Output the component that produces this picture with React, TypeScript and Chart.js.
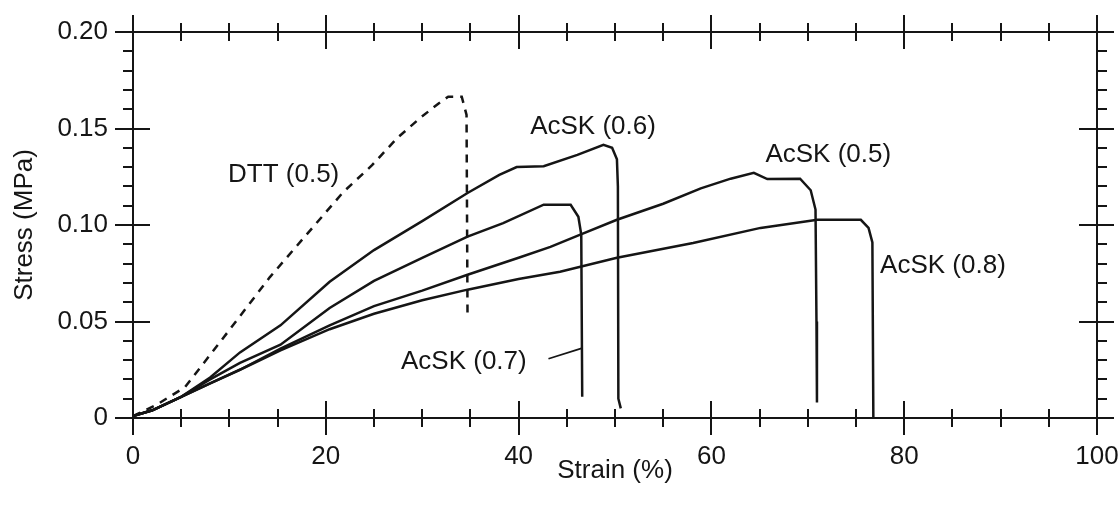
import React, { useEffect, useRef } from 'react';
import { Chart, registerables } from 'chart.js';

Chart.register(...registerables);

// ---- Data ----
const xTickValues = [0, 20, 40, 60, 80, 100];
const yTickValues = [0, 0.05, 0.1, 0.15, 0.2];

const dttX = [0, 2.5, 5.4, 9.75, 14.2, 18.0, 21.8, 24.8, 27.4, 29.8, 31.7, 32.7, 34.1, 34.6, 34.7];
const dttY = [0.001, 0.007, 0.016, 0.044, 0.073, 0.095, 0.117, 0.131, 0.145, 0.1555, 0.163, 0.1665, 0.1665, 0.157, 0.054];

const acsk06X = [0, 2, 5, 8, 11.1, 15.3, 20.4, 25, 30, 34.7, 38, 39.8, 42.6, 46.1, 48.8, 49.7, 50.2, 50.3, 50.35, 50.6];
const acsk06Y = [0.001, 0.004, 0.011, 0.021, 0.034, 0.048, 0.0706, 0.087, 0.102, 0.1166, 0.126, 0.13, 0.1305, 0.1363, 0.1415, 0.14, 0.134, 0.12, 0.01, 0.005];

const acsk07X = [0, 2, 5, 8, 11.1, 15.3, 20.4, 25, 30, 34.7, 38.4, 42.6, 45.4, 46.2, 46.5, 46.6];
const acsk07Y = [0.001, 0.004, 0.011, 0.02, 0.0286, 0.038, 0.057, 0.071, 0.083, 0.094, 0.101, 0.1105, 0.1105, 0.1043, 0.095, 0.011];

const acsk05X = [0, 2, 5, 8, 11.1, 15.3, 20.4, 25, 30, 34.7, 40, 43.3, 46.4, 50.2, 55, 58.9, 62, 64.4, 65.8, 69.2, 70.3, 70.8, 70.9, 70.95];
const acsk05Y = [0.001, 0.004, 0.011, 0.018, 0.025, 0.036, 0.048, 0.058, 0.066, 0.0742, 0.083, 0.0887, 0.095, 0.1027, 0.111, 0.119, 0.124, 0.127, 0.1238, 0.124, 0.118, 0.108, 0.05, 0.008];

const acsk08X = [0, 2, 5, 8, 11.1, 15.3, 20.4, 25, 30, 34.7, 40, 44.3, 50.2, 58.1, 65.1, 71, 75.5, 76.3, 76.7, 76.8];
const acsk08Y = [0.001, 0.004, 0.011, 0.018, 0.025, 0.035, 0.046, 0.054, 0.061, 0.0665, 0.072, 0.0758, 0.083, 0.0907, 0.0985, 0.1027, 0.1027, 0.0985, 0.091, 0];

const leaderX = [43.1, 46.6];
const leaderY = [0.0307, 0.0362];

const labelTexts = ['DTT (0.5)', 'AcSK (0.6)', 'AcSK (0.5)', 'AcSK (0.8)', 'AcSK (0.7)'];
const labelX = [9.86, 41.2, 65.6, 77.5, 27.8];
const labelY = [0.126, 0.1508, 0.1365, 0.0789, 0.0291];

const FONT = "'Liberation Sans', Arial, sans-serif";
const FS = 26;
const INK = '#151515';

const pts = (xs: number[], ys: number[]) => xs.map((x, i) => ({ x, y: ys[i] }));

const clearScalePadding = (s: any) => {
  s.paddingTop = 0;
  s.paddingBottom = 0;
  s.paddingLeft = 0;
  s.paddingRight = 0;
};

const framePlugin = {
  id: 'frameTicks',
  afterDatasetsDraw(chart: any) {
    const { ctx, chartArea, scales } = chart;
    const xs = scales.x;
    const ys = scales.y;
    const { left, right, top, bottom } = chartArea;
    ctx.save();
    ctx.strokeStyle = INK;
    ctx.lineWidth = 2;
    ctx.lineCap = 'butt';
    ctx.beginPath();
    ctx.rect(left, top, right - left, bottom - top);
    ctx.stroke();
    ctx.beginPath();
    // x ticks (every 5, major every 20)
    for (let v = 0; v <= 100 + 1e-9; v += 5) {
      const px = Math.round(xs.getPixelForValue(v));
      const major = Math.abs(v % 20) < 1e-9;
      const h = major ? 17 : 9;
      ctx.moveTo(px, bottom - h);
      ctx.lineTo(px, bottom + h);
      ctx.moveTo(px, top - h);
      ctx.lineTo(px, top + h);
    }
    // y ticks (every 0.01, major every 0.05)
    for (let i = 0; i <= 20; i++) {
      const v = i * 0.01;
      const py = Math.round(ys.getPixelForValue(v));
      const major = i % 5 === 0;
      if (major) {
        ctx.moveTo(left - 18, py);
        ctx.lineTo(left + 17, py);
        ctx.moveTo(right - 18, py);
        ctx.lineTo(right + 17, py);
      } else {
        ctx.moveTo(left - 10, py);
        ctx.lineTo(left, py);
        ctx.moveTo(right, py);
        ctx.lineTo(right + 10, py);
      }
    }
    ctx.stroke();

    // curve labels
    ctx.fillStyle = INK;
    ctx.font = `${FS}px ${FONT}`;
    ctx.textAlign = 'left';
    ctx.textBaseline = 'middle';
    labelTexts.forEach((t, i) => {
      ctx.fillText(t, xs.getPixelForValue(labelX[i]), ys.getPixelForValue(labelY[i]));
    });
    ctx.restore();
  },
};

export default function App() {
  const canvasRef = useRef<HTMLCanvasElement | null>(null);

  useEffect(() => {
    document.body.style.margin = '0';
    const canvas = canvasRef.current;
    if (!canvas) return;
    const lineDs = (label: string, data: any[], extra: any = {}) => ({
      label,
      data,
      borderColor: INK,
      borderWidth: 2.5,
      pointRadius: 0,
      tension: 0,
      fill: false,
      ...extra,
    });
    const chart = new Chart(canvas, {
      type: 'line',
      data: {
        datasets: [
          lineDs('DTT (0.5)', pts(dttX, dttY), { borderDash: [8, 7] }),
          lineDs('AcSK (0.6)', pts(acsk06X, acsk06Y)),
          lineDs('AcSK (0.7)', pts(acsk07X, acsk07Y)),
          lineDs('AcSK (0.5)', pts(acsk05X, acsk05Y)),
          lineDs('AcSK (0.8)', pts(acsk08X, acsk08Y)),
          lineDs('leader', pts(leaderX, leaderY), { borderWidth: 1.8 }),
        ],
      },
      options: {
        responsive: false,
        animation: false,
        devicePixelRatio: 1,
        layout: { padding: { top: 32, right: 22, left: 0, bottom: 0 } },
        plugins: {
          legend: { display: false },
          tooltip: { enabled: false },
          title: { display: false },
        },
        scales: {
          x: {
            type: 'linear',
            min: 0,
            max: 100,
            afterBuildTicks: (s: any) => {
              s.ticks = xTickValues.map((v) => ({ value: v }));
            },
            afterFit: (s: any) => {
              s.height = 95;
              clearScalePadding(s);
            },
            grid: { display: false, drawTicks: false },
            border: { display: false },
            ticks: {
              color: INK,
              font: { family: FONT, size: FS },
              padding: 23,
              maxRotation: 0,
              autoSkip: false,
            },
            title: {
              display: true,
              text: 'Strain (%)',
              color: INK,
              font: { family: FONT, size: FS },
              padding: { top: 0, bottom: 27 },
            },
          },
          y: {
            type: 'linear',
            min: 0,
            max: 0.2,
            afterBuildTicks: (s: any) => {
              s.ticks = yTickValues.map((v) => ({ value: v }));
            },
            afterFit: (s: any) => {
              s.width = 133;
              clearScalePadding(s);
            },
            grid: { display: false, drawTicks: false },
            border: { display: false },
            ticks: {
              color: INK,
              font: { family: FONT, size: FS },
              padding: 25,
              autoSkip: false,
              callback: (v: any) => (Number(v) === 0 ? '0' : Number(v).toFixed(2)),
            },
            title: {
              display: true,
              text: 'Stress (MPa)',
              color: INK,
              font: { family: FONT, size: FS },
              padding: { top: 9, bottom: 0 },
            },
          },
        },
      },
      plugins: [framePlugin],
    } as any);
    return () => chart.destroy();
  }, []);

  return (
    <div style={{ position: 'absolute', left: 0, top: 0, width: 1119, height: 513, background: '#fff' }}>
      <canvas ref={canvasRef} width={1119} height={513} style={{ width: 1119, height: 513, display: 'block' }} />
    </div>
  );
}
